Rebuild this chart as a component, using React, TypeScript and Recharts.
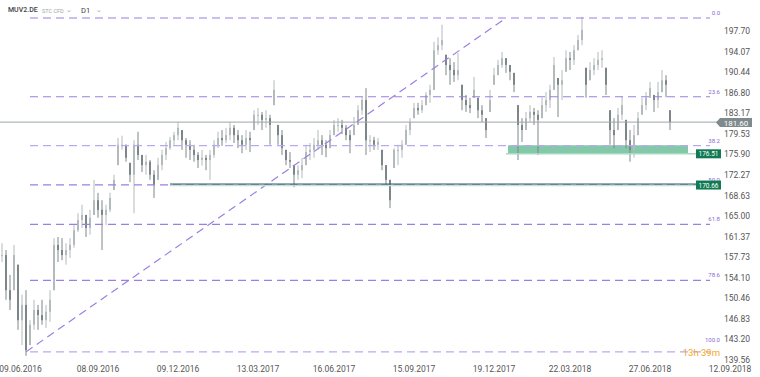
import { ComposedChart, Bar, XAxis, YAxis, ReferenceLine, ReferenceArea } from "recharts";

// daily candles, sampled ~ every 3 trading days
const highs = [
  160.2, 159.0, 154.6, 159.9, 156.4, 151.1, 151.9, 146.6, 150.2, 149.3,
  150.2, 149.3, 151.9, 161.1, 161.3, 161.1, 160.2, 161.1, 163.4, 165.5,
  167.0, 165.2, 166.1, 171.4, 169.1, 167.8, 167.0, 169.1, 172.3, 178.8,
  179.2, 177.6, 174.4, 178.4, 179.9, 175.8, 175.8, 174.9, 173.1, 175.3,
  176.7, 178.1, 179.0, 179.9, 181.6, 180.2, 178.8, 178.4, 177.6, 176.3,
  176.7, 175.8, 176.7, 178.4, 179.9, 180.2, 180.6, 181.6, 181.1, 180.2,
  179.3, 180.2, 179.9, 183.7, 184.1, 183.4, 183.7, 182.9, 189.0, 181.1,
  180.2, 176.7, 176.3, 174.0, 174.0, 175.3, 177.6, 177.9, 178.8, 180.2,
  179.3, 178.4, 180.2, 182.0, 182.3, 182.0, 181.1, 180.2, 182.5, 184.6,
  186.0, 187.6, 179.3, 179.0, 178.8, 176.7, 174.0, 171.4, 177.0, 177.6,
  178.4, 181.1, 182.3, 185.0, 185.0, 185.5, 186.9, 188.2, 195.8, 196.6,
  198.8, 193.5, 192.9, 192.2, 193.8, 188.2, 186.4, 185.9, 189.6, 185.9,
  184.6, 182.3, 187.3, 191.2, 192.6, 194.0, 192.9, 191.7, 190.3, 184.6,
  182.3, 183.4, 184.6, 184.1, 183.7, 185.9, 186.9, 188.2, 193.1, 189.4,
  190.8, 194.3, 194.0, 195.2, 197.0, 200.2, 191.2, 192.2, 192.9, 194.0,
  194.3, 191.2, 183.7, 182.3, 184.1, 186.2, 182.0, 180.2, 181.1, 183.4,
  185.9, 186.9, 188.7, 186.4, 188.7, 190.8, 189.9, 183.7,
];
const lows = [
  156.9, 150.2, 148.4, 151.9, 144.9, 142.2, 140.3, 142.2, 144.9, 144.9,
  145.8, 145.2, 146.3, 151.9, 156.9, 157.2, 156.4, 157.6, 159.4, 162.2,
  162.9, 161.3, 161.7, 165.2, 164.7, 159.0, 163.4, 165.7, 169.6, 174.0,
  176.7, 174.6, 171.0, 165.5, 174.9, 172.8, 172.3, 171.4, 168.2, 171.4,
  173.1, 174.9, 176.7, 177.6, 178.4, 176.7, 175.3, 174.9, 174.6, 173.5,
  173.9, 173.1, 171.4, 175.3, 177.0, 177.4, 177.9, 178.4, 177.9, 177.0,
  176.1, 176.7, 176.3, 180.2, 181.1, 180.2, 180.6, 177.6, 184.6, 177.6,
  175.8, 174.0, 173.5, 170.1, 171.4, 171.7, 174.0, 174.9, 175.3, 176.7,
  175.8, 175.4, 177.0, 179.3, 179.9, 179.5, 178.4, 176.1, 179.3, 181.1,
  182.9, 175.8, 176.3, 176.7, 176.7, 173.1, 170.5, 166.4, 173.5, 174.0,
  175.3, 177.6, 179.3, 182.3, 182.9, 183.2, 184.6, 185.0, 187.3, 193.5,
  194.3, 189.9, 188.2, 188.7, 189.0, 183.7, 183.4, 183.2, 185.9, 182.3,
  181.6, 178.8, 183.4, 188.2, 189.9, 191.2, 190.3, 189.0, 186.9, 174.9,
  178.1, 180.2, 181.6, 181.1, 175.8, 182.3, 183.4, 184.1, 187.3, 182.5,
  185.5, 190.5, 190.8, 191.7, 194.3, 195.2, 185.9, 189.0, 189.9, 190.8,
  191.2, 186.4, 177.6, 177.0, 180.2, 182.0, 177.0, 174.6, 175.3, 179.3,
  182.9, 183.7, 185.9, 183.4, 184.1, 186.9, 186.0, 180.2,
];
const closes = [
  158.1, 151.9, 150.2, 158.1, 146.6, 149.3, 141.3, 145.8, 148.4, 147.5,
  146.6, 148.1, 150.2, 159.9, 159.0, 158.1, 159.0, 159.9, 162.5, 164.3,
  165.2, 162.9, 164.7, 167.8, 166.1, 165.2, 166.1, 168.2, 171.4, 177.6,
  177.6, 175.3, 172.3, 177.6, 175.8, 174.0, 174.6, 172.3, 170.5, 174.0,
  175.8, 177.0, 178.4, 179.3, 180.6, 178.4, 177.6, 176.7, 175.8, 174.9,
  175.3, 174.9, 175.8, 177.6, 178.8, 178.4, 179.3, 180.6, 179.3, 178.4,
  177.6, 178.8, 178.4, 182.9, 182.9, 182.0, 182.3, 181.1, 187.3, 179.3,
  177.0, 174.9, 174.6, 172.3, 173.1, 174.0, 176.3, 176.7, 177.6, 178.4,
  177.6, 177.0, 179.3, 181.1, 181.1, 180.6, 179.3, 178.4, 181.1, 183.7,
  185.5, 178.4, 178.4, 177.6, 178.1, 174.0, 171.4, 167.8, 176.7, 176.7,
  177.6, 180.2, 181.6, 184.1, 183.7, 184.6, 186.4, 187.3, 194.3, 195.2,
  196.1, 191.7, 190.8, 189.9, 190.8, 185.5, 184.6, 184.1, 187.3, 183.7,
  182.9, 180.2, 185.5, 189.9, 191.7, 192.9, 191.7, 190.5, 188.2, 181.1,
  180.2, 182.3, 183.4, 182.9, 182.0, 184.6, 185.5, 187.3, 191.7, 188.2,
  189.0, 192.9, 192.6, 194.3, 196.1, 197.9, 188.2, 190.8, 191.7, 192.6,
  192.9, 188.2, 180.2, 179.3, 182.9, 184.6, 178.4, 176.7, 179.3, 182.3,
  184.6, 185.9, 187.6, 185.5, 186.9, 189.0, 188.2, 181.6,
];

const SLOTS = 180;
const dateTicks = [4, 24, 44, 64, 83, 103, 123, 142, 162, 179];
const dateLabels = ["09.06.2016", "08.09.2016", "09.12.2016", "13.03.2017", "16.06.2017", "15.09.2017", "19.12.2017", "22.03.2018", "27.06.2018", "12.09.2018"];
const priceTicks = [139.56, 143.2, 146.83, 150.46, 154.1, 157.73, 161.37, 165.0, 168.63, 172.27, 175.9, 179.53, 183.17, 186.8, 190.44, 194.07, 197.7];

const fibNames = ["0.0", "23.6", "38.2", "50.0", "61.8", "78.6", "100.0"];
const fibLevels = [200.0, 186.08, 177.46, 170.5, 163.54, 153.63, 141.0];
const lastPrice = 181.6;
const zoneLow = 176.1;
const zoneHigh = 177.5;
const zoneTag = 176.51;
const supportLevel = 170.66;

const data = Array.from({ length: SLOTS }, (_, i) => {
  if (i >= closes.length) return { i, hl: null };
  const prev = i > 0 ? closes[i - 1] : closes[0];
  const o = Math.min(highs[i], Math.max(lows[i], prev));
  return { i, hl: [lows[i], highs[i]], o, c: closes[i] };
});

const FONT = "Roboto, 'Noto Sans', sans-serif";

function Candle(props: any) {
  const { x, y, width, height, payload } = props;
  if (!payload || !payload.hl) return null;
  const [lo, hi] = payload.hl;
  const top0 = Math.min(y, y + height);
  const h = Math.abs(height);
  const ppu = h / (hi - lo || 1);
  const bTop = top0 + (hi - Math.max(payload.o, payload.c)) * ppu;
  const bBot = top0 + (hi - Math.min(payload.o, payload.c)) * ppu;
  const cx = x + width / 2;
  const up = payload.c >= payload.o;
  const col = up ? "#b3babc" : "#7c8688";
  return (
    <g>
      <line x1={cx} x2={cx} y1={top0} y2={top0 + h} stroke={col} strokeWidth={1} />
      <rect x={cx - 1} y={bTop} width={2} height={Math.max(1, bBot - bTop)} fill={col} />
    </g>
  );
}

function DateTick({ x, y, payload }: any) {
  const k = dateTicks.indexOf(payload.value);
  const shift = payload.value === 179 ? 12 : payload.value === 4 ? 2.5 : 0;
  return (
    <text x={x + shift} y={y + 2} textAnchor="middle" fontSize={8.5} fill="#555" fontFamily={FONT}>
      {dateLabels[k]}
    </text>
  );
}

function fibTag(name: string) {
  return (p: any) => {
    const vb = p.viewBox || {};
    const endX = (vb.x || 0) + (vb.width || 0) + 10;
    const lift = name === "100.0" ? 10 : 3;
    return (
      <g>
        <text x={endX} y={vb.y - lift} textAnchor="end" fontSize={6} fill="#8a6ad6" fontFamily={FONT}>
          {name}
        </text>
        {name === "100.0" && (
          <text x={endX} y={vb.y + 4} textAnchor="end" fontSize={9.5} fill="#f5a623" fontFamily={FONT}>
            13h 39m
          </text>
        )}
      </g>
    );
  };
}

function badge(text: string, fill: string, dy: number) {
  return (p: any) => {
    const vb = p.viewBox || {};
    const cy = vb.y + dy;
    return (
      <g>
        <rect x={696} y={cy - 4.5} width={25} height={9} fill={fill} />
        <text x={708.5} y={cy + 2.5} textAnchor="middle" fontSize={6.5} fill="#fff" fontFamily={FONT}>
          {text}
        </text>
      </g>
    );
  };
}

function lastTag(p: any) {
  const vb = p.viewBox || {};
  const cy = vb.y + 0.5;
  const x0 = (vb.x || 0) + (vb.width || 0);
  return (
    <g>
      <polygon points={`${x0 - 4},${cy} ${x0},${cy - 4.5} ${x0 + 32},${cy - 4.5} ${x0 + 32},${cy + 4.5} ${x0},${cy + 4.5}`} fill="#7f8a8c" />
      <text x={x0 + 16} y={cy + 3} textAnchor="middle" fontSize={8} fill="#fff" fontFamily={FONT}>
        {lastPrice.toFixed(2)}
      </text>
    </g>
  );
}

export default function App() {
  return (
    <div style={{ position: "absolute", left: 0, top: 0, width: 760, height: 377, background: "#fff", fontFamily: FONT }}>
      <ComposedChart width={760} height={377} data={data} margin={{ top: 0, right: 0, bottom: 0, left: 0 }} barCategoryGap={0} barGap={0}>
        <XAxis dataKey="i" type="category" ticks={dateTicks} interval={0} tick={<DateTick />} axisLine={false} tickLine={false} height={15} />
        <YAxis
          orientation="right"
          width={40}
          domain={[139.21, 203.18]}
          allowDataOverflow
          ticks={priceTicks}
          interval={0}
          tickFormatter={(v: number) => v.toFixed(2)}
          tick={{ fontSize: 8.5, fill: "#555", fontFamily: FONT }}
          axisLine={false}
          tickLine={false}
          tickSize={0}
          tickMargin={4}
        />

        {fibLevels.map((lv, k) => (
          <ReferenceLine
            key={fibNames[k]}
            segment={[{ x: 7, y: lv }, { x: 177, y: lv }]}
            stroke={k === 2 || k === 6 ? "#bba9ee" : "#9a80e0"}
            strokeWidth={1.2}
            strokeDasharray="8 5"
            label={fibTag(fibNames[k])}
          />
        ))}
        <ReferenceLine
          segment={[{ x: 6, y: fibLevels[6] }, { x: 126, y: fibLevels[0] }]}
          stroke="#9a80e0"
          strokeWidth={1.2}
          strokeDasharray="8 5"
        />

        <ReferenceArea x1={127} x2={171} y1={zoneLow} y2={zoneHigh} fill="#6fbe9b" fillOpacity={0.85} stroke="none" />
        <ReferenceLine segment={[{ x: 126, y: zoneLow - 0.1 }, { x: 175, y: zoneLow - 0.1 }]} stroke="#a6d9c2" strokeWidth={1.5} label={badge(zoneTag.toFixed(2), "#117a54", 0)} />

        <ReferenceLine segment={[{ x: 42, y: supportLevel - 0.25 }, { x: 175, y: supportLevel - 0.25 }]} stroke="#bfe3d2" strokeWidth={1.5} />
        <ReferenceLine segment={[{ x: 42, y: supportLevel }, { x: 175, y: supportLevel }]} stroke="#2e4d63" strokeWidth={1} label={badge(supportLevel.toFixed(2), "#117a54", 1)} />

        <ReferenceLine y={lastPrice} stroke="#9ea6a8" strokeWidth={1} label={lastTag} />

        <Bar dataKey="hl" shape={<Candle />} isAnimationActive={false} />
      </ComposedChart>

      <div style={{ position: "absolute", left: 8, top: 6, fontSize: 7, color: "#3c4446", fontWeight: 500 }}>MUV2.DE</div>
      <div style={{ position: "absolute", left: 42, top: 8, fontSize: 5.5, color: "#a0a6a8" }}>STC CFD</div>
      <div style={{ position: "absolute", left: 66, top: 6, fontSize: 7, color: "#a0a6a8" }}>⌄</div>
      <div style={{ position: "absolute", left: 81, top: 6, fontSize: 7.5, color: "#3c4446" }}>D1</div>
      <div style={{ position: "absolute", left: 96, top: 6, fontSize: 7, color: "#a0a6a8" }}>⌄</div>
    </div>
  );
}
